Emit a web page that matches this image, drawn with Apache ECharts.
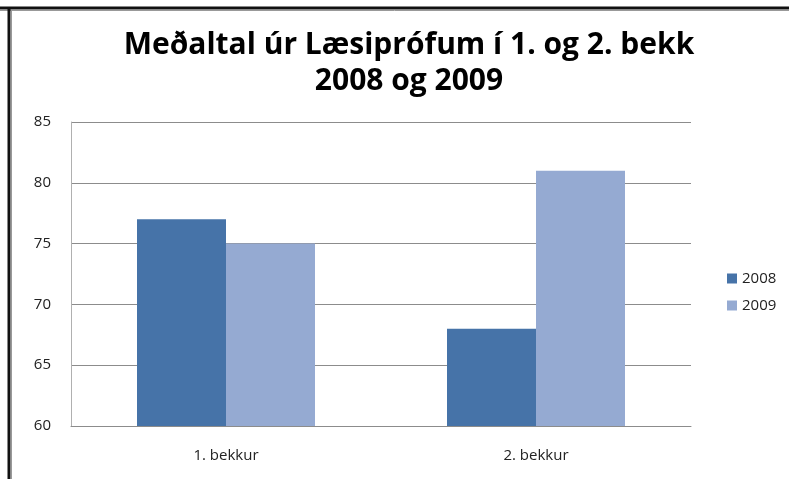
<!DOCTYPE html>
<html>
<head>
<meta charset="utf-8">
<script src="https://cdn.jsdelivr.net/npm/echarts@6/dist/echarts.min.js"></script>
<style>
	html, body {margin: 0; padding: 0; background: #fff;}
	#main {width: 789px; height: 479px;}
</style>
</head>
<body>
<div id="main"></div>
<script>
	var categories = ['1. bekkur', '2. bekkur'];
	var seriesNames = ['2008', '2009'];
	var values2008 = [77, 68];
	var values2009 = [75, 81];

	var myChart = echarts.init(document.getElementById('main'));
	var font = '"Open Sans", Lato, sans-serif';
	var option = {
		backgroundColor: '#fff',
		animation: false,
		color: ['#4673a8', '#95aad2'],
		title: {
			text: 'Meðaltal úr Læsiprófum í 1. og 2. bekk\n2008 og 2009',
			left: 404, top: 22, textAlign: 'center',
			textStyle: {fontFamily: font, fontSize: 30, fontWeight: 'bold', color: '#000', lineHeight: 36}
		},
		legend: {
			orient: 'vertical', left: 722, top: 266, itemGap: 12,
			itemWidth: 10, itemHeight: 10, icon: 'rect',
			textStyle: {fontFamily: font, fontSize: 15, color: '#222'},
			data: seriesNames
		},
		grid: {left: 71, right: 98, top: 122, bottom: 53, containLabel: false},
		xAxis: {
			type: 'category', data: categories,
			axisLine: {lineStyle: {color: '#8c8c8c'}},
			axisTick: {show: false},
			axisLabel: {fontFamily: font, fontSize: 15, color: '#222', margin: 22}
		},
		yAxis: {
			type: 'value', min: 60, max: 85, interval: 5,
			axisLine: {show: true, lineStyle: {color: '#b0b0b0'}},
			axisTick: {show: false},
			splitLine: {lineStyle: {color: '#8c8c8c'}},
			axisLabel: {fontFamily: font, fontSize: 15, color: '#222', margin: 20}
		},
		graphic: [
			{type: 'line', shape: {x1: 0, y1: 8, x2: 789, y2: 8}, style: {stroke: '#111', lineWidth: 3}},
			{type: 'line', shape: {x1: 0, y1: 10.5, x2: 789, y2: 10.5}, style: {stroke: '#999', lineWidth: 1}},
			{type: 'line', shape: {x1: 9, y1: 8, x2: 9, y2: 479}, style: {stroke: '#111', lineWidth: 3}},
			{type: 'line', shape: {x1: 11.5, y1: 10, x2: 11.5, y2: 479}, style: {stroke: '#999', lineWidth: 1}}
		],
		series: [
			{name: seriesNames[0], type: 'bar', data: values2008, barWidth: 89, barGap: '0%'},
			{name: seriesNames[1], type: 'bar', data: values2009, barWidth: 89, barGap: '0%'}
		]
	};
	myChart.setOption(option);
</script>
</body>
</html>
